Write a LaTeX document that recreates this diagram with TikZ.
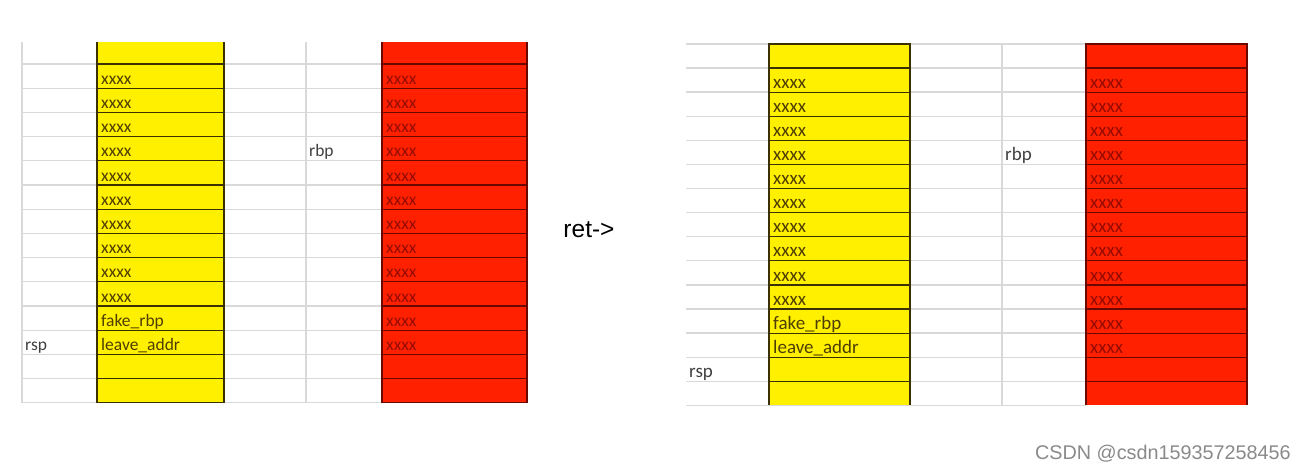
\documentclass[tikz,border=0pt]{standalone}
\usepackage{fontspec}
\setmainfont{Carlito}
\newfontfamily\arialf{Liberation Sans}
\definecolor{cellyel}{HTML}{FFF000}
\definecolor{cellred}{HTML}{FF2000}
\definecolor{ytxt}{HTML}{4E3E00}
\definecolor{rtxt}{HTML}{960C00}
\definecolor{ybrd}{HTML}{3A3000}
\definecolor{rbrd}{HTML}{6A0800}
\definecolor{gridg}{HTML}{D9D9D9}
\definecolor{lbl}{HTML}{404040}
\definecolor{wm}{HTML}{8A8A8A}
\begin{document}
\begin{tikzpicture}[x=1pt,y=-1pt,
  gridline/.style={draw=gridg, line width=1.3pt},
  cellbase/.style={inner sep=0pt, outer sep=0pt, anchor=north west, line width=1.2pt},
  ycellL/.style={cellbase, fill=cellyel, minimum width=127pt, minimum height=24.2pt},
  rcellL/.style={cellbase, fill=cellred, minimum width=145pt, minimum height=24.2pt},
  ycellR/.style={cellbase, fill=cellyel, minimum width=141pt, minimum height=24.1pt},
  rcellR/.style={cellbase, fill=cellred, minimum width=161pt, minimum height=24.1pt},
  ybord/.style={draw=ybrd},
  rbord/.style={draw=rbrd},
  ytextL/.style={anchor=base west, inner sep=0pt, text=ytxt, font=\fontsize{17.5}{20}\selectfont},
  rtextL/.style={anchor=base west, inner sep=0pt, text=rtxt, font=\fontsize{17.5}{20}\selectfont},
  ytextR/.style={anchor=base west, inner sep=0pt, text=ytxt, font=\fontsize{19}{22}\selectfont},
  rtextR/.style={anchor=base west, inner sep=0pt, text=rtxt, font=\fontsize{19}{22}\selectfont},
  reglbl/.style={anchor=base west, inner sep=0pt, text=lbl, font=\fontsize{17.5}{20}\selectfont},
  reglblR/.style={anchor=base west, inner sep=0pt, text=lbl, font=\fontsize{19}{22}\selectfont}
]
\useasboundingbox (0,0) rectangle (1307,469);
\fill[white] (0,0) rectangle (1307,469);

% ---------- left panel grid ----------
\foreach \k in {0,...,14} {
  \pgfmathsetmacro\yy{64+\k*24.2}
  \draw[gridline] (22,\yy) -- (527,\yy);
}
\draw[gridline] (22,42) -- (22,403);
\draw[gridline] (306,42) -- (306,403);

% left yellow / red columns
\node[ycellL] (LY0) at (97,42) {};
\node[rcellL] (LR0) at (382,42) {};
\draw[ybrd,line width=1.2pt] (LY0.north west) -- (LY0.south west) (LY0.north east) -- (LY0.south east);
\draw[rbrd,line width=1.2pt] (LR0.north west) -- (LR0.south west) (LR0.north east) -- (LR0.south east);
\foreach \k in {1,...,14} {
  \pgfmathsetmacro\yy{64+(\k-1)*24.2}
  \node[ycellL,ybord] (LY\k) at (97,\yy) {};
  \node[rcellL,rbord] (LR\k) at (382,\yy) {};
}
\foreach \k in {1,...,10} {
  \node[ytextL] (LYt\k) at ([xshift=4pt,yshift=3.9pt]LY\k.south west) {xxxx};
}
\node[ytextL] (LYt11) at ([xshift=4pt,yshift=3.9pt]LY11.south west) {fake\_rbp};
\node[ytextL] (LYt12) at ([xshift=4pt,yshift=3.9pt]LY12.south west) {leave\_addr};
\foreach \k in {1,...,12} {
  \node[rtextL] (LRt\k) at ([xshift=4pt,yshift=3.9pt]LR\k.south west) {xxxx};
}
\node[reglbl] (rspL) at ([yshift=3.9pt]25,0 |- LY12.south) {rsp};
\node[reglbl] (rbpL) at ([yshift=3.9pt]309,0 |- LY4.south) {rbp};

% ---------- middle ----------
\node[font=\arialf\fontsize{24.5}{28}\selectfont, inner sep=0pt] (ret) at (589,230) {ret->};

% ---------- right panel grid ----------
\draw[gridline] (686,44) -- (1086,44);
\foreach \k in {0,...,14} {
  \pgfmathsetmacro\yy{68+\k*24.1}
  \draw[gridline] (686,\yy) -- (1086,\yy);
}
\draw[gridline] (1002,44) -- (1002,405);

\node[ycellR,ybord] (RY0) at (769,44) {};
\node[rcellR,rbord] (RR0) at (1086,44) {};
\foreach \k in {1,...,13} {
  \pgfmathsetmacro\yy{68+(\k-1)*24.1}
  \node[ycellR,ybord] (RY\k) at (769,\yy) {};
  \node[rcellR,rbord] (RR\k) at (1086,\yy) {};
}
\node[ycellR] (RY14) at (769,{68+13*24.1}) {};
\node[rcellR] (RR14) at (1086,{68+13*24.1}) {};
\draw[ybrd,line width=1.2pt] (RY14.north west) -- (RY14.south west) (RY14.north east) -- (RY14.south east);
\draw[rbrd,line width=1.2pt] (RR14.north west) -- (RR14.south west) (RR14.north east) -- (RR14.south east);
\draw[ybrd,line width=1.2pt] (RY13.south west) -- (RY13.south east);
\draw[rbrd,line width=1.2pt] (RR13.south west) -- (RR13.south east);

\foreach \k in {1,...,10} {
  \node[ytextR] (RYt\k) at ([xshift=4pt,yshift=3.9pt]RY\k.south west) {xxxx};
}
\node[ytextR] (RYt11) at ([xshift=4pt,yshift=3.9pt]RY11.south west) {fake\_rbp};
\node[ytextR] (RYt12) at ([xshift=4pt,yshift=3.9pt]RY12.south west) {leave\_addr};
\foreach \k in {1,...,12} {
  \node[rtextR] (RRt\k) at ([xshift=4pt,yshift=3.9pt]RR\k.south west) {xxxx};
}
\node[reglblR] (rspR) at ([yshift=3.9pt]689,0 |- RY13.south) {rsp};
\node[reglblR] (rbpR) at ([yshift=3.9pt]1005,0 |- RY4.south) {rbp};

% watermark
\node[anchor=base east, inner sep=0pt, text=wm, font=\arialf\fontsize{19.8}{22}\selectfont] (wmk) at (1291,459) {CSDN @csdn159357258456};
\end{tikzpicture}
\end{document}
